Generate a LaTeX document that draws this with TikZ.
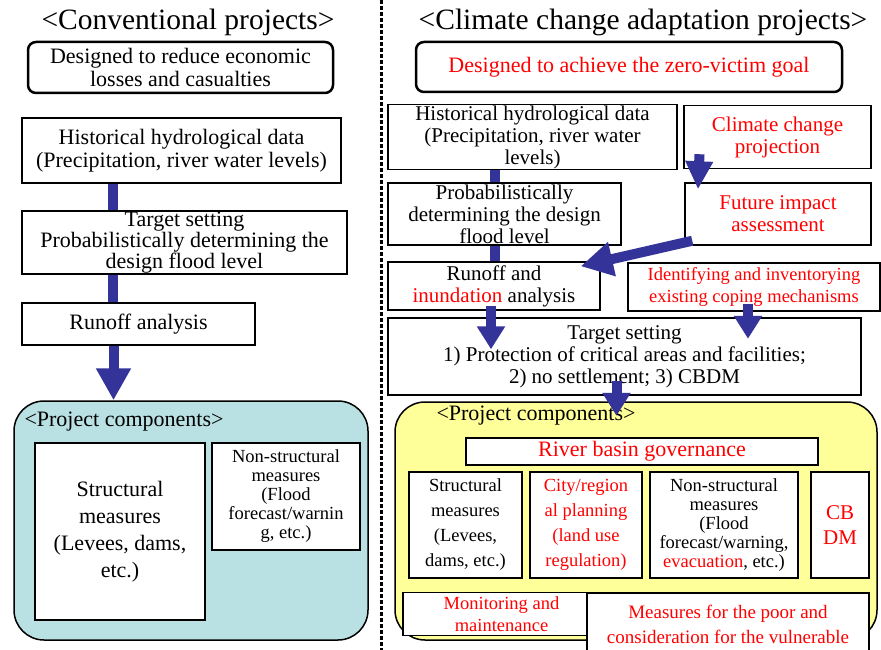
\documentclass[tikz,border=0pt]{standalone}
\usepackage{fontspec}
\setmainfont{Liberation Serif}
\usepackage{xcolor}
\usetikzlibrary{arrows.meta,calc}
\definecolor{flowblue}{HTML}{333399}
\definecolor{txtred}{HTML}{FF0000}
\definecolor{compcyan}{HTML}{B9E0E2}
\definecolor{compyellow}{HTML}{FFFF99}
\newcommand\fsTitle{\fontsize{29.5}{30}\selectfont}
\newcommand\fsMain{\fontsize{22}{23}\selectfont}
\newcommand\fsSub{\fontsize{21}{22}\selectfont}
\newcommand\fsComp{\fontsize{18.5}{19}\selectfont}
\newcommand\fsCompR{\fontsize{18.5}{25}\selectfont}

\begin{document}
\begin{tikzpicture}[x=1pt,y=-1pt,
  box/.style={draw,line width=1.5pt,fill=white,align=center,inner sep=1pt},
  goalbox/.style={box,line width=2.5pt,rounded corners=8pt},
  compbg/.style={draw,line width=1.5pt,rounded corners=30pt},
  bar/.style={draw=flowblue,line width=10pt},
  flow/.style={bar,-{Triangle[length=23pt,width=27pt]}},
  flowbig/.style={bar,-{Triangle[length=32pt,width=33pt]}}]
\useasboundingbox[fill=white] (0,0) rectangle (881,650);

\draw[line width=3pt,dash pattern=on 4pt off 2pt] (381,0) -- (381,650);

\node at (188,22) [font=\fsTitle] (titleL) {<Conventional projects>};
\node at (180.5,67.5) [goalbox,font=\fsMain,minimum width=305,minimum height=51] (goalL) {Designed to reduce economic\\losses and casualties};
\node at (181.5,150.5) [box,font=\fsMain,minimum width=319,minimum height=65] (histL) {Historical hydrological data\\(Precipitation, river water levels)};
\node at (184.5,242.5) [box,font=\fontsize{22}{21}\selectfont,minimum width=325,minimum height=63] (targL) {Target setting\\Probabilistically determining the\\design flood level};
\node at (138.5,324) [box,font=\fsMain,minimum width=233,minimum height=42] (runL) {Runoff analysis};
\node at (191,520.5) [compbg,fill=compcyan,minimum width=354,minimum height=239] (compL) {};
\node at (124,422) [font=\fsMain] (compLlab) {<Project components>};
\node at (120,531.5) [box,font=\fontsize{22}{27}\selectfont,minimum width=170,minimum height=177] (strL) {Structural\\measures\\(Levees, dams,\\etc.)};
\node at (286,496.5) [box,font=\fsComp,minimum width=148,minimum height=107] (nonL) {Non-structural\\measures\\(Flood\\forecast/warnin\\g, etc.)};

\draw[bar] ($(histL.south)+(-69,0)$) -- ($(targL.north)+(-72,0)$);
\draw[bar] ($(targL.south)+(-72,0)$) -- ($(runL.north)+(-26,0)$);
\draw[flowbig] ($(runL.south)+(-25,0)$) -- ($(compL.north)+(-77.5,0)$);

\node at (643,22) [font=\fsTitle] (titleR) {<Climate change adaptation projects>};
\node at (629,67) [goalbox,font=\fsMain,text=txtred,minimum width=426,minimum height=50] (goalR) {Designed to achieve the zero-victim goal};
\node at (532.5,137) [box,font=\fsSub,minimum width=289,minimum height=63] (histR) {Historical hydrological data\\(Precipitation, river water\\levels)};
\node at (777.5,137) [box,font=\fsSub,text=txtred,minimum width=187,minimum height=63] (projR) {Climate change\\projection};
\node at (504.5,214) [box,font=\fsSub,minimum width=233,minimum height=62] (probR) {Probabilistically\\determining the design\\flood level};
\node at (778,214) [box,font=\fsSub,text=txtred,minimum width=186,minimum height=62] (impR) {Future impact\\assessment};
\node at (494,286) [box,font=\fsSub,minimum width=212,minimum height=48] (runR) {Runoff and\\{\color{txtred}inundation} analysis};
\node at (754,287) [box,font=\fontsize{18.5}{22}\selectfont,text=txtred,minimum width=252,minimum height=48] (copeR) {Identifying and inventorying\\existing coping mechanisms};
\node at (624.5,356.5) [box,font=\fsSub,minimum width=473,minimum height=77] (targR) {Target setting\\1) Protection of critical areas and facilities;\\2) no settlement; 3) CBDM};
\node at (636,521) [compbg,fill=compyellow,minimum width=482,minimum height=238] (compR) {};
\node at (536,416) [font=\fsMain] (compRlab) {<Project components>};
\node at (642,451.5) [box,font=\fsMain,text=txtred,minimum width=352,minimum height=27] (govR) {River basin governance};
\node at (465.5,525) [box,font=\fsCompR,minimum width=113,minimum height=106] (strR) {Structural\\measures\\(Levees,\\dams, etc.)};
\node at (586,525) [box,font=\fsCompR,text=txtred,minimum width=112,minimum height=106] (cityR) {City/region\\al planning\\(land use\\regulation)};
\node at (724,525) [box,font=\fontsize{18.5}{19}\selectfont,minimum width=148,minimum height=106] (nonR) {Non-structural\\measures\\(Flood\\forecast/warning,\\{\color{txtred}evacuation}, etc.)};
\node at (840,525) [box,font=\fontsize{21}{25}\selectfont,text=txtred,minimum width=58,minimum height=106] (cbR) {CB\\DM};
\node at (501.5,614) [box,font=\fontsize{18.5}{22}\selectfont,text=txtred,minimum width=197,minimum height=43] (monR) {Monitoring and\\maintenance};
\node at (728,624) [box,font=\fontsize{19}{25}\selectfont,text=txtred,minimum width=282,minimum height=62] (poorR) {Measures for the poor and\\consideration for the vulnerable};

\draw[bar] ($(histR.south)+(-37.5,0)$) -- ($(probR.north)+(-9.5,0)$);
\draw[bar] ($(probR.south)+(-9.5,0)$) -- ($(runR.north)+(1,0)$);
\draw[bar,-{Triangle[length=28pt,width=26pt]}] ($(projR.south)+(-78,-15)$) -- ($(impR.north)+(-80,7)$);
\draw[flowbig] ($(impR.south west)+(8,-5)$) -- ($(runR.north east)+(-20,5)$);
\draw[flow] ($(runR.south)+(-3,-5)$) -- ($(targR.north)+(-133.5,32)$);
\draw[flow] ($(copeR.south)+(-6,-8)$) -- ($(copeR.south)+(-6,27)$);
\draw[flow] ($(targR.south)+(-8,-15)$) -- ($(targR.south)+(-8,20)$);
\end{tikzpicture}
\end{document}
